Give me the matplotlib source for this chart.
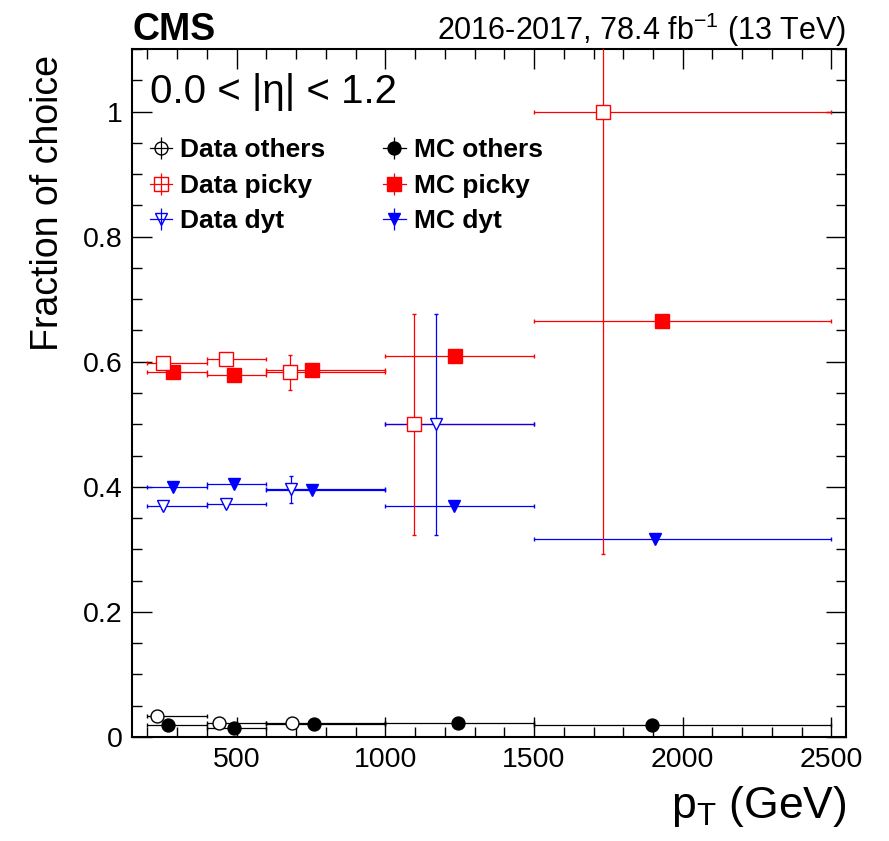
import numpy as np
import matplotlib
matplotlib.use("Agg")
import matplotlib.pyplot as plt
from matplotlib.lines import Line2D
from matplotlib.ticker import MultipleLocator, FormatStrFormatter

plt.rcParams['font.family'] = ['Liberation Sans', 'DejaVu Sans']
plt.rcParams['mathtext.fontset'] = 'custom'
plt.rcParams['mathtext.rm'] = 'Liberation Sans'
plt.rcParams['mathtext.it'] = 'Liberation Sans:italic'
plt.rcParams['mathtext.bf'] = 'Liberation Sans:bold'

# pT bins (GeV)
bin_lo = [200, 400, 600, 1000, 1500]
bin_hi = [400, 600, 1000, 1500, 2500]

# data points (x = mean pT in bin)
data_others_x = [231, 441, 686]
data_others_y = [0.034, 0.023, 0.022]
data_others_err = [0.004, 0.004, 0.006]

data_picky_x = [253, 465, 679, 1095, 1732]
data_picky_y = [0.598, 0.605, 0.583, 0.500, 1.000]
data_picky_err = [0.005, 0.007, 0.028, 0.177, 0.708]

data_dyt_x = [253, 466, 684, 1171]
data_dyt_y = [0.369, 0.373, 0.396, 0.500]
data_dyt_err = [0.004, 0.006, 0.022, 0.177]

# simulation
mc_others_x = [268, 492, 760, 1244, 1895]
mc_others_y = [0.019, 0.015, 0.020, 0.023, 0.019]

mc_picky_x = [285, 490, 754, 1235, 1929]
mc_picky_y = [0.583, 0.579, 0.586, 0.609, 0.665]

mc_dyt_x = [285, 490, 752, 1230, 1907]
mc_dyt_y = [0.400, 0.405, 0.395, 0.369, 0.317]

RED = '#ff0000'
BLUE = '#0000ff'
BLACK = '#000000'


def xerrs(x):
    n = len(x)
    lo = np.array(bin_lo[:n])
    hi = np.array(bin_hi[:n])
    x = np.array(x)
    return [x - lo, hi - x]


def draw(ax, x, y, yerr, color, marker, filled, ms):
    if yerr is None:
        yerr = [0] * len(x)
    ax.errorbar(x, y, xerr=xerrs(x), yerr=yerr, fmt=marker, color=color,
                mec=color, mfc=color if filled else 'white', ms=ms, mew=1.0,
                elinewidth=0.9, capsize=1.6, capthick=0.9, zorder=3)


fig = plt.figure(figsize=(8.89, 8.41), dpi=100)
ax = fig.add_axes([0.149, 0.1237, 0.803, 0.818])

draw(ax, mc_others_x, mc_others_y, None, BLACK, 'o', True, 9.3)
draw(ax, mc_picky_x, mc_picky_y, None, RED, 's', True, 9.5)
draw(ax, mc_dyt_x, mc_dyt_y, None, BLUE, 'v', True, 9.3)
draw(ax, data_others_x, data_others_y, data_others_err, BLACK, 'o', False, 9.3)
draw(ax, data_picky_x, data_picky_y, data_picky_err, RED, 's', False, 9.5)
draw(ax, data_dyt_x, data_dyt_y, data_dyt_err, BLUE, 'v', False, 9.3)

ax.set_xlim(150, 2550)
ax.set_ylim(0, 1.1)

# ROOT-like ticks
ax.xaxis.set_major_locator(MultipleLocator(500))
ax.xaxis.set_minor_locator(MultipleLocator(100))
ax.yaxis.set_major_locator(MultipleLocator(0.2))
ax.yaxis.set_minor_locator(MultipleLocator(0.05))
ax.yaxis.set_major_formatter(FormatStrFormatter('%g'))
ax.tick_params(which='both', direction='in', top=True, right=True,
               labelsize=20.5, width=1.0, pad=7)
ax.tick_params(which='major', length=14.5)
ax.tick_params(which='minor', length=7.2)
for s in ax.spines.values():
    s.set_linewidth(1.5)

ax.set_ylabel('Fraction of choice', fontsize=27, ha='right')
ax.yaxis.set_label_coords(-0.093, 0.991)
ax.set_xlabel(r'p$_{\mathregular{T}}$ (GeV)', fontsize=32, ha='right')
ax.xaxis.set_label_coords(1.0, -0.068)

# labels above the frame
fig.text(0.149, 0.953, 'CMS', fontsize=27, fontweight='bold', ha='left', va='baseline')
fig.text(0.952, 0.953, r'2016-2017, 78.4 fb$^{-1}$ (13 TeV)', fontsize=22,
         ha='right', va='baseline')
ax.text(0.024, 0.965, '0.0 < |η| < 1.2', fontsize=29, transform=ax.transAxes,
        ha='left', va='top')

# legend: marker with error-bar cross
def handle(color, marker, filled, ms):
    h = Line2D([], [], color=color, lw=0.9)
    v = Line2D([], [], color=color, marker='|', ms=16, mew=0.9, ls='none')
    m = Line2D([], [], color=color, marker=marker, ms=ms, ls='none', mew=1.0,
               mec=color, mfc=color if filled else 'none')
    return (h, v, m)

handles = [handle(BLACK, 'o', False, 9.3), handle(RED, 's', False, 9.5),
           handle(BLUE, 'v', False, 9.3), handle(BLACK, 'o', True, 9.3),
           handle(RED, 's', True, 9.5), handle(BLUE, 'v', True, 9.3)]
labels = ['Data others', 'Data picky', 'Data dyt',
          'MC others', 'MC picky', 'MC dyt']
ax.legend(handles, labels, ncol=2, loc='upper left', bbox_to_anchor=(0.024, 0.87),
          frameon=False, borderpad=0, borderaxespad=0, handlelength=0.85,
          handletextpad=0.3, columnspacing=2.2, labelspacing=0.43,
          prop={'weight': 'bold', 'size': 19})

fig.savefig('out.png', dpi=100)
